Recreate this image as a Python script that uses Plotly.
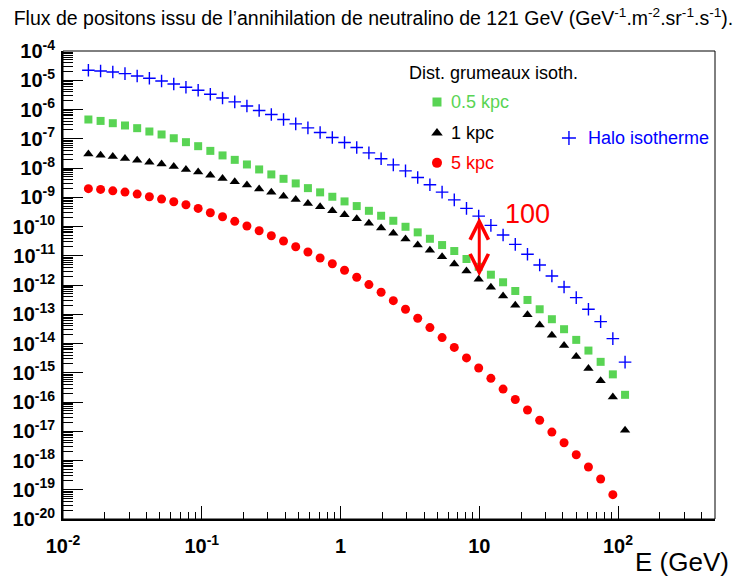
import math
import plotly.graph_objects as go

# Energy grid (GeV)
energy = [0.01524, 0.01866, 0.02285, 0.02797, 0.03424, 0.04193, 0.05133, 0.06284, 0.07693, 0.09421,
          0.1153, 0.1412, 0.1729, 0.2116, 0.2592, 0.3173, 0.3885, 0.4756, 0.5823, 0.7130,
          0.8730, 1.069, 1.309, 1.602, 1.962, 2.402, 2.941, 3.601, 4.409, 5.397,
          6.607, 8.090, 9.904, 12.13, 14.85, 18.18, 22.26, 27.25, 33.37, 40.85,
          50.00, 61.22, 74.95, 91.78, 112.4]

halo_iso = [2.19e-5, 2.07e-5, 1.92e-5, 1.69e-5, 1.40e-5, 1.17e-5, 9.46e-6, 7.46e-6, 5.77e-6, 4.55e-6,
            3.33e-6, 2.48e-6, 1.82e-6, 1.32e-6, 9.23e-7, 6.75e-7, 4.55e-7, 3.22e-7, 2.35e-7, 1.64e-7,
            1.10e-7, 7.46e-8, 5.04e-8, 3.30e-8, 2.06e-8, 1.28e-8, 8.00e-9, 4.76e-9, 2.66e-9, 1.50e-9,
            8.11e-10, 4.16e-10, 2.27e-10, 1.09e-10, 5.11e-11, 2.45e-11, 1.12e-11, 4.82e-12, 2.03e-12, 8.55e-13,
            3.69e-13, 1.48e-13, 5.60e-14, 1.47e-14, 2.30e-15]

clump_05kpc = [4.55e-7, 4.07e-7, 3.40e-7, 2.84e-7, 2.30e-7, 1.77e-7, 1.40e-7, 1.04e-7, 7.64e-8, 5.57e-8,
               3.85e-8, 2.69e-8, 1.90e-8, 1.32e-8, 8.93e-9, 6.03e-9, 4.27e-9, 2.97e-9, 2.05e-9, 1.47e-9,
               1.04e-9, 7.21e-10, 4.99e-10, 3.44e-10, 2.33e-10, 1.57e-10, 9.79e-11, 6.31e-11, 3.81e-11, 2.32e-11,
               1.45e-11, 7.73e-12, 4.19e-12, 2.25e-12, 1.24e-12, 6.25e-13, 3.08e-13, 1.48e-13, 6.76e-14, 3.08e-14,
               1.33e-14, 5.73e-15, 2.36e-15, 8.81e-16, 1.76e-16]

clump_1kpc = [3.04e-8, 2.75e-8, 2.48e-8, 2.12e-8, 1.85e-8, 1.58e-8, 1.36e-8, 1.13e-8, 8.93e-9, 7.23e-9,
              5.70e-9, 4.41e-9, 3.37e-9, 2.60e-9, 1.93e-9, 1.47e-9, 1.09e-9, 8.45e-10, 6.17e-10, 4.72e-10,
              3.44e-10, 2.52e-10, 1.84e-10, 1.28e-10, 8.85e-11, 5.83e-11, 3.72e-11, 2.32e-11, 1.55e-11, 9.27e-12,
              5.22e-12, 3.01e-12, 1.57e-12, 8.36e-13, 4.22e-13, 2.03e-13, 9.70e-14, 4.32e-14, 1.92e-14, 8.47e-15,
              3.57e-15, 1.39e-15, 5.37e-16, 1.48e-16, 1.08e-17]

clump_5kpc = [1.97e-9, 1.85e-9, 1.66e-9, 1.50e-9, 1.28e-9, 1.04e-9, 8.65e-10, 7.00e-10, 5.52e-10, 4.16e-10,
              2.94e-10, 2.15e-10, 1.50e-10, 1.04e-10, 7.16e-11, 4.83e-11, 3.18e-11, 2.03e-11, 1.34e-11, 8.36e-12,
              5.35e-12, 3.18e-12, 1.84e-12, 1.03e-12, 5.64e-13, 2.92e-13, 1.48e-13, 7.31e-14, 3.49e-14, 1.59e-14,
              7.36e-15, 3.22e-15, 1.45e-15, 6.44e-16, 2.77e-16, 1.22e-16, 5.32e-17, 2.37e-17, 9.37e-18, 4.04e-18,
              1.57e-18, 5.98e-19, 2.33e-19, 6.78e-20]

# Arrow: ratio between halo and 1 kpc clumps at 10 GeV
arrow_energy = 10.0
arrow_top = 2.3e-10
arrow_bottom = 2.0e-12

x_tickvals = [0.01, 0.1, 1, 10, 100]
x_ticktext = ["10<sup>-2</sup>", "10<sup>-1</sup>", "1", "10", "10<sup>2</sup>"]
y_exponents = list(range(-20, -3))
y_tickvals = [10.0 ** e for e in y_exponents]
y_ticktext = ["10<sup>%d</sup>" % e for e in y_exponents]

GREEN = "#59d454"
FONT = "Liberation Sans, Arial, Helvetica, sans-serif"

fig = go.Figure()

fig.add_trace(go.Scatter(x=energy, y=halo_iso, mode="markers", name="Halo isotherme",
                         marker=dict(symbol="cross-thin", size=9, line=dict(color="#0000ff", width=1.4))))
fig.add_trace(go.Scatter(x=energy, y=clump_05kpc, mode="markers", name="0.5 kpc",
                         marker=dict(symbol="square", size=8, color=GREEN)))
fig.add_trace(go.Scatter(x=energy, y=clump_1kpc, mode="markers", name="1 kpc",
                         marker=dict(symbol="triangle-up", size=9, color="black")))
fig.add_trace(go.Scatter(x=energy[:len(clump_5kpc)], y=clump_5kpc, mode="markers", name="5 kpc",
                         marker=dict(symbol="circle", size=9, color="#ff0000")))

# legend glyphs on an overlay unit axis
fig.add_trace(go.Scatter(x=[0.5736], y=[0.891], xaxis="x2", yaxis="y2", mode="markers",
                         marker=dict(symbol="square", size=9, color=GREEN), hoverinfo="skip"))
fig.add_trace(go.Scatter(x=[0.5736], y=[0.825], xaxis="x2", yaxis="y2", mode="markers",
                         marker=dict(symbol="triangle-up", size=10, color="black"), hoverinfo="skip"))
fig.add_trace(go.Scatter(x=[0.5736], y=[0.761], xaxis="x2", yaxis="y2", mode="markers",
                         marker=dict(symbol="circle", size=10, color="#ff0000"), hoverinfo="skip"))
fig.add_trace(go.Scatter(x=[0.776], y=[0.814], xaxis="x2", yaxis="y2", mode="markers",
                         marker=dict(symbol="cross-thin", size=10, line=dict(color="#0000ff", width=1.4)),
                         hoverinfo="skip"))

minor_x = [m * 10.0 ** d for d in range(-2, 3) for m in range(2, 10) if m * 10.0 ** d <= 500]
minor_y = [m * 10.0 ** d for d in range(-20, -4) for m in range(2, 10)]

fig.update_layout(
    width=741, height=577,
    margin=dict(l=63, r=26, t=51, b=58, autoexpand=False),
    paper_bgcolor="white", plot_bgcolor="white",
    showlegend=False,
    font=dict(family=FONT, color="black"),
    title=dict(text="Flux de positons issu de l’annihilation de neutralino de 121 GeV "
                    "(GeV<sup>-1</sup>.m<sup>-2</sup>.sr<sup>-1</sup>.s<sup>-1</sup>).",
               x=0.504, xanchor="center", y=0.968, yanchor="middle", yref="container",
               font=dict(size=19.5, family=FONT, color="black")),
    xaxis=dict(type="log", range=[-2, 2.699], tickmode="array", tickvals=x_tickvals, ticktext=x_ticktext,
               ticks="inside", ticklen=13, tickwidth=1, tickcolor="black", automargin=False,
               showgrid=False, zeroline=False, showline=True, linecolor="black", linewidth=2,
               tickfont=dict(size=20, family=FONT, weight="bold"), ticklabelstandoff=8,
               minor=dict(tickmode="array", tickvals=minor_x, ticks="inside", ticklen=7,
                          tickwidth=1, tickcolor="black", showgrid=False)),
    yaxis=dict(type="log", range=[-20, -4], tickmode="array", tickvals=y_tickvals, ticktext=y_ticktext,
               ticks="inside", ticklen=20, tickwidth=1, tickcolor="black", automargin=False,
               showgrid=False, zeroline=False, showline=True, linecolor="black", linewidth=2,
               tickfont=dict(size=20, family=FONT, weight="bold"), ticklabelstandoff=2,
               minor=dict(tickmode="array", tickvals=minor_y, ticks="inside", ticklen=10,
                          tickwidth=1, tickcolor="black", showgrid=False)),
    xaxis2=dict(overlaying="x", range=[0, 1], visible=False, fixedrange=True),
    yaxis2=dict(overlaying="y", range=[0, 1], visible=False, fixedrange=True),
)

fig.add_shape(type="rect", xref="paper", yref="paper", x0=0, y0=0, x1=1, y1=1,
              line=dict(color="black", width=1), layer="above")

fig.add_annotation(x=math.log10(arrow_energy), y=math.log10(arrow_bottom), xref="x", yref="y",
                   ax=math.log10(arrow_energy), ay=math.log10(arrow_top), axref="x", ayref="y",
                   text="", showarrow=True, arrowside="end+start", arrowhead=5, arrowsize=1.2,
                   arrowwidth=3, arrowcolor="#ff0000", standoff=0, startstandoff=0)

fig.add_annotation(x=0.712, y=0.652, xref="paper", yref="paper", text="100", showarrow=False,
                   font=dict(size=27, color="#ff0000", family=FONT), xanchor="center", yanchor="middle")

fig.add_annotation(x=0.528, y=0.953, xref="paper", yref="paper", text="Dist. grumeaux isoth.",
                   showarrow=False, font=dict(size=18, color="black", family=FONT),
                   xanchor="left", yanchor="middle")
fig.add_annotation(x=0.592, y=0.891, xref="paper", yref="paper", text="0.5 kpc", showarrow=False,
                   font=dict(size=18, color=GREEN, family=FONT), xanchor="left", yanchor="middle")
fig.add_annotation(x=0.592, y=0.825, xref="paper", yref="paper", text="1 kpc", showarrow=False,
                   font=dict(size=18, color="black", family=FONT), xanchor="left", yanchor="middle")
fig.add_annotation(x=0.592, y=0.761, xref="paper", yref="paper", text="5 kpc", showarrow=False,
                   font=dict(size=18, color="#ff0000", family=FONT), xanchor="left", yanchor="middle")
fig.add_annotation(x=0.802, y=0.814, xref="paper", yref="paper", text="Halo isotherme", showarrow=False,
                   font=dict(size=18, color="#0000ff", family=FONT), xanchor="left", yanchor="middle")

fig.add_annotation(x=1.0245, y=-0.092, xref="paper", yref="paper", text="E (GeV)", showarrow=False,
                   font=dict(size=26, color="black", family=FONT), xanchor="right", yanchor="middle")

fig.write_html("out.html", config={"displayModeBar": False},
               post_script="document.body.style.margin='0';document.body.style.padding='0';")
